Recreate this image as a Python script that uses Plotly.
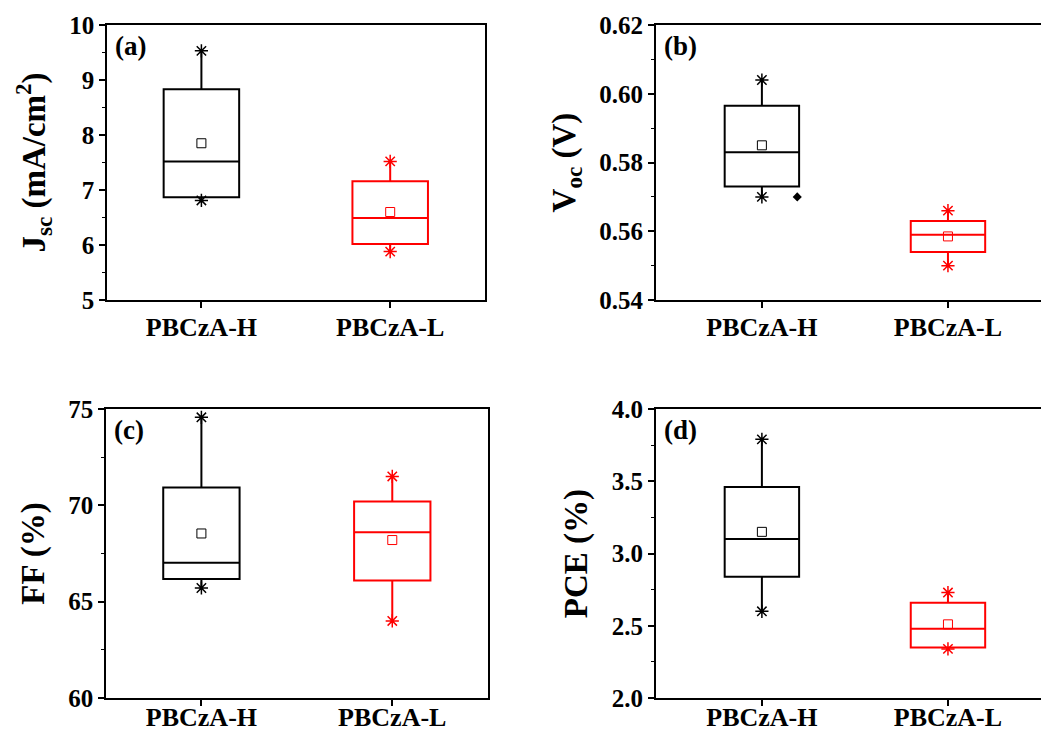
import plotly.graph_objects as go

categories = ["PBCzA-H", "PBCzA-L"]
colors = ["black", "red"]

# stats per panel: [H, L]
jsc_min = [6.81, 5.88]
jsc_q1 = [6.87, 6.02]
jsc_med = [7.52, 6.49]
jsc_mean = [7.85, 6.60]
jsc_q3 = [8.83, 7.16]
jsc_max = [9.53, 7.52]

voc_min = [0.570, 0.550]
voc_q1 = [0.573, 0.554]
voc_med = [0.583, 0.559]
voc_mean = [0.585, 0.5585]
voc_q3 = [0.5965, 0.563]
voc_max = [0.604, 0.566]
voc_outlier = [0.570]

ff_min = [65.71, 64.0]
ff_q1 = [66.18, 66.1]
ff_med = [67.02, 68.6]
ff_mean = [68.54, 68.2]
ff_q3 = [70.92, 70.2]
ff_max = [74.57, 71.5]

pce_min = [2.60, 2.34]
pce_q1 = [2.84, 2.35]
pce_med = [3.10, 2.48]
pce_mean = [3.15, 2.51]
pce_q3 = [3.46, 2.66]
pce_max = [3.79, 2.73]

panels = [
    dict(name="(a)", mn=jsc_min, q1=jsc_q1, med=jsc_med, mean=jsc_mean, q3=jsc_q3, mx=jsc_max,
         yr=[5, 10], dtick=1, minor=0.5, fmt=None,
         title="J<sub>sc</sub> (mA/cm<sup>2</sup>)", xr=[-0.5, 1.5], so=-3,
         dx=[0.1028, 0.4655], dy=[0.5907, 0.9659]),
    dict(name="(b)", mn=voc_min, q1=voc_q1, med=voc_med, mean=voc_mean, q3=voc_q3, mx=voc_max,
         yr=[0.54, 0.62], dtick=0.02, minor=0.01, fmt=".2f",
         title="V<sub>oc</sub> (V)", xr=[-0.57, 1.5], so=-3,
         dx=[0.630, 1.0], dy=[0.5907, 0.9659]),
    dict(name="(c)", mn=ff_min, q1=ff_q1, med=ff_med, mean=ff_mean, q3=ff_q3, mx=ff_max,
         yr=[60, 75], dtick=5, minor=2.5, fmt=None,
         title="FF (%)", xr=[-0.5, 1.5], so=-11,
         dx=[0.1018, 0.4685], dy=[0.0477, 0.442]),
    dict(name="(d)", mn=pce_min, q1=pce_q1, med=pce_med, mean=pce_mean, q3=pce_q3, mx=pce_max,
         yr=[2.0, 4.0], dtick=0.5, minor=0.25, fmt=".1f",
         title="PCE (%)", xr=[-0.57, 1.5], so=-11,
         dx=[0.630, 1.0], dy=[0.0477, 0.442]),
]

font_family = "Liberation Serif"
fig = go.Figure()
annotations = []
layout_axes = {}

for i, p in enumerate(panels):
    k = "" if i == 0 else str(i + 1)
    xa, ya = "x" + k, "y" + k
    for j, cat in enumerate(categories):
        c = colors[j]
        fig.add_trace(go.Box(
            x=[j], q1=[p["q1"][j]], median=[p["med"][j]], q3=[p["q3"][j]],
            lowerfence=[p["mn"][j]], upperfence=[p["mx"][j]],
            width=0.4, whiskerwidth=0, boxpoints=False,
            line=dict(color=c, width=2), fillcolor="rgba(0,0,0,0)",
            xaxis=xa, yaxis=ya, showlegend=False, hoverinfo="skip"))
        fig.add_trace(go.Scatter(
            x=[j, j], y=[p["mn"][j], p["mx"][j]], mode="markers",
            marker=dict(symbol="asterisk-open", size=11, color=c, line=dict(color=c, width=1.5)),
            xaxis=xa, yaxis=ya, showlegend=False, hoverinfo="skip"))
        fig.add_trace(go.Scatter(
            x=[j], y=[p["mean"][j]], mode="markers",
            marker=dict(symbol="square-open", size=9, color=c, line=dict(color=c, width=1)),
            xaxis=xa, yaxis=ya, showlegend=False, hoverinfo="skip"))
    if p["name"] == "(b)":
        fig.add_trace(go.Scatter(
            x=[0.19], y=voc_outlier, mode="markers",
            marker=dict(symbol="diamond", size=7, color="black"),
            xaxis=xa, yaxis=ya, showlegend=False, hoverinfo="skip"))
    xkey = "xaxis" + k
    ykey = "yaxis" + k
    layout_axes[xkey] = dict(
        domain=p["dx"], anchor=ya, range=p["xr"],
        tickvals=[0, 1], ticktext=["<b>" + c + "</b>" for c in categories],
        showline=True, linecolor="black", linewidth=1.5, mirror=True,
        ticks="outside", ticklen=6, tickwidth=1.5, tickcolor="black",
        ticklabelstandoff=p["so"],
        showgrid=False, zeroline=False,
        tickfont=dict(family=font_family, size=26, color="black"))
    yax = dict(
        domain=p["dy"], anchor=xa, range=p["yr"], dtick=p["dtick"], tick0=p["yr"][0],
        showline=True, linecolor="black", linewidth=1.5, mirror=True,
        ticks="outside", ticklen=6, tickwidth=1.5, tickcolor="black",
        minor=dict(dtick=p["minor"], ticks="outside", ticklen=3, tickcolor="black", tickwidth=1),
        showgrid=False, zeroline=False,
        tickfont=dict(family=font_family, size=25, color="black", weight="bold"),
        title=dict(text="<b>" + p["title"] + "</b>", standoff=14,
                   font=dict(family=font_family, size=33, color="black")))
    if p["fmt"]:
        yax["tickformat"] = p["fmt"]
    layout_axes[ykey] = yax
    annotations.append(dict(
        text="<b>" + p["name"] + "</b>", xref=xa + " domain", yref=ya + " domain",
        x=0.015, y=0.985, xanchor="left", yanchor="top", showarrow=False,
        font=dict(family=font_family, size=27, color="black")))

fig.update_layout(
    width=1041, height=733,
    margin=dict(l=0, r=0, t=0, b=0, autoexpand=False),
    paper_bgcolor="white", plot_bgcolor="white",
    annotations=annotations, **layout_axes)

fig.write_html("out.html")
